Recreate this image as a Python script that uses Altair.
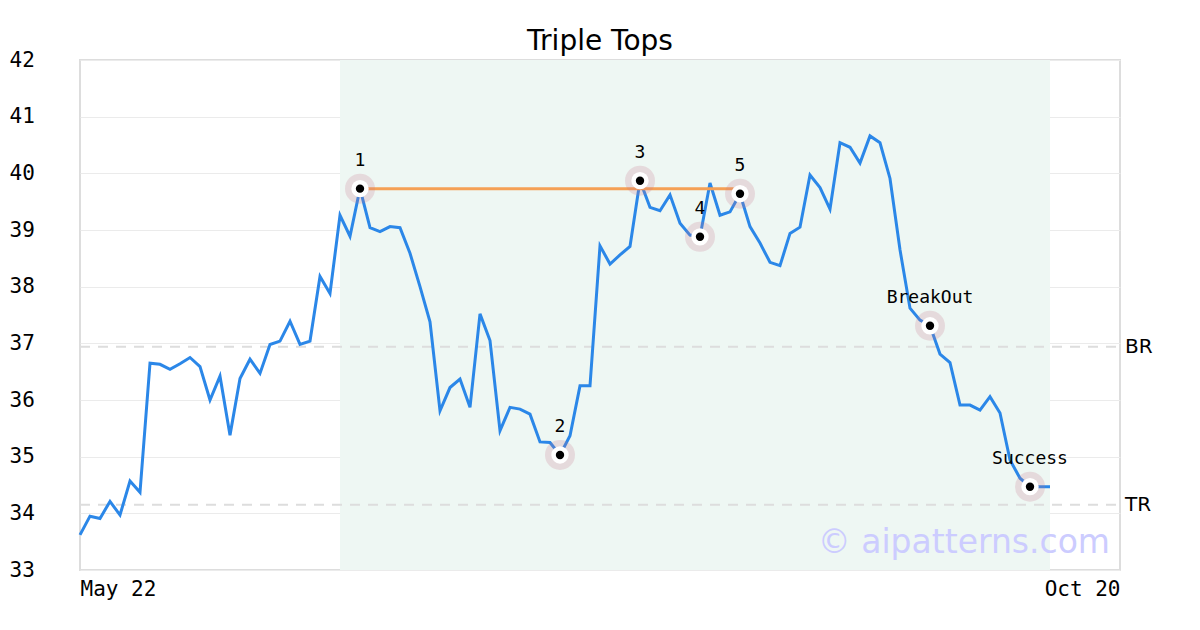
import altair as alt
import pandas as pd

# ---- data ----
prices = [33.62, 33.95, 33.91, 34.21, 33.97, 34.57, 34.37, 36.65, 36.63, 36.54,
          36.64, 36.75, 36.59, 36.00, 36.42, 35.38, 36.38, 36.72, 36.47, 36.98,
          37.04, 37.39, 36.98, 37.04, 38.18, 37.88, 39.26, 38.89, 39.73, 39.04,
          38.97, 39.06, 39.04, 38.59, 38.00, 37.38, 35.81, 36.22, 36.37, 35.87,
          37.52, 37.05, 35.46, 35.87, 35.84, 35.75, 35.26, 35.25, 35.03, 35.37,
          36.25, 36.25, 38.72, 38.40, 38.56, 38.71, 39.87, 39.40, 39.34, 39.62,
          39.12, 38.91, 38.88, 39.83, 39.26, 39.32, 39.64, 39.06, 38.77, 38.43,
          38.37, 38.94, 39.05, 39.97, 39.75, 39.37, 40.54, 40.46, 40.18, 40.66,
          40.54, 39.91, 38.65, 37.62, 37.41, 37.31, 36.81, 36.66, 35.91, 35.91,
          35.82, 36.06, 35.77, 34.94, 34.62, 34.47, 34.47, 34.47]
x_max = 104
x_tick_values = [0, 104]
x_tick_labels = ["May 22", "Oct 20"]
y_ticks = [33, 34, 35, 36, 37, 38, 39, 40, 41, 42]

pattern_start, pattern_end = 26, 97
key_labels = ["1", "2", "3", "4", "5", "BreakOut", "Success"]
key_idx = [28, 48, 56, 62, 66, 85, 95]

neck_start, neck_end, neck_level = 28, 66, 39.73
level_names = ["BR", "TR"]
level_values = [36.94, 34.15]

W, H = 1040, 510

line_df = pd.DataFrame({"idx": list(range(len(prices))), "price": prices})
key_df = pd.DataFrame({"idx": key_idx,
                       "price": [prices[i] for i in key_idx],
                       "label": key_labels})
lvl_df = pd.DataFrame({"name": level_names, "price": level_values})
shade_df = pd.DataFrame({"x1": [pattern_start], "x2": [pattern_end]})
neck_df = pd.DataFrame({"x1": [neck_start], "x2": [neck_end], "price": [neck_level]})
wm_df = pd.DataFrame({"t": ["© aipatterns.com"]})

label_expr = " : ".join(
    [f"datum.value == {v} ? '{l}'" for v, l in zip(x_tick_values, x_tick_labels)]
) + " : ''"

xscale = alt.Scale(domain=[0, x_max], nice=False, zero=False)
yscale = alt.Scale(domain=[33, 42], nice=False, zero=False)

x_axis = alt.Axis(values=x_tick_values, labelExpr=label_expr, grid=False, ticks=False,
                  domain=False, labelFlush=True, labelFont="DejaVu Sans Mono",
                  labelFontSize=21, labelColor="#000", labelPadding=8, title=None)
y_axis = alt.Axis(values=y_ticks, grid=True, gridColor="#ebebeb", gridWidth=1, ticks=False,
                  domain=False, labelFont="DejaVu Sans Mono", labelFontSize=21,
                  labelColor="#000", labelAlign="left", labelPadding=71,
                  labelFlush=False, title=None)

base_x = alt.X("idx:Q", scale=xscale, axis=x_axis)
base_y = alt.Y("price:Q", scale=yscale, axis=y_axis)

shade = alt.Chart(shade_df).mark_rect(color="#eef7f3").encode(
    x=alt.X("x1:Q", scale=xscale, axis=x_axis), x2="x2:Q",
    y=alt.value(0), y2=alt.value(H))

levels = alt.Chart(lvl_df).mark_rule(color="#dddddd", strokeWidth=2,
                                     strokeDash=[10, 8]).encode(
    y=alt.Y("price:Q", scale=yscale, axis=y_axis), x=alt.value(0), x2=alt.value(W))

level_text = alt.Chart(lvl_df).mark_text(align="left", baseline="middle",
                                         font="DejaVu Sans", fontSize=20,
                                         color="#000").encode(
    y=alt.Y("price:Q", scale=yscale, axis=y_axis), x=alt.value(W + 5), text="name:N")

line = alt.Chart(line_df).mark_line(color="#2b87e8", strokeWidth=3).encode(
    x=base_x, y=base_y)

neck = alt.Chart(neck_df).mark_rule(color="#f5a055", strokeWidth=3).encode(
    x=alt.X("x1:Q", scale=xscale, axis=x_axis), x2="x2:Q",
    y=alt.Y("price:Q", scale=yscale, axis=y_axis))

halo = alt.Chart(key_df).mark_point(filled=True, shape="circle", size=900,
                                    color="#c8788c", opacity=0.22,
                                    strokeWidth=0).encode(
    x=base_x, y=base_y)
white = alt.Chart(key_df).mark_point(filled=True, shape="circle", size=300,
                                     color="#ffffff", opacity=1,
                                     strokeWidth=0).encode(
    x=base_x, y=base_y)
dot = alt.Chart(key_df).mark_point(filled=True, shape="circle", size=70,
                                   color="#000000", opacity=1,
                                   strokeWidth=0).encode(
    x=base_x, y=base_y)
key_text = alt.Chart(key_df).mark_text(dy=-23, baseline="alphabetic", align="center",
                                       font="DejaVu Sans Mono", fontSize=18,
                                       color="#000").encode(
    x=base_x, y=base_y, text="label:N")

watermark = alt.Chart(wm_df).mark_text(align="right", baseline="alphabetic",
                                       font="DejaVu Sans", fontSize=33,
                                       color="#ccccff").encode(
    x=alt.value(W - 10), y=alt.value(H - 17), text="t:N")

chart = alt.layer(shade, levels, level_text, line, neck, halo, white, dot, key_text,
                  watermark).properties(
    width=W, height=H,
    title=alt.TitleParams("Triple Tops", font="DejaVu Sans", fontSize=28,
                          fontWeight="normal", color="#000", anchor="middle", offset=-7),
    autosize=alt.AutoSizeParams(type="none"),
    padding={"left": 72, "top": 52, "right": 72, "bottom": 52},
).configure_view(stroke="#dddddd", strokeWidth=2)

chart.save("out.html", embed_options={"renderer": "svg", "actions": False})
